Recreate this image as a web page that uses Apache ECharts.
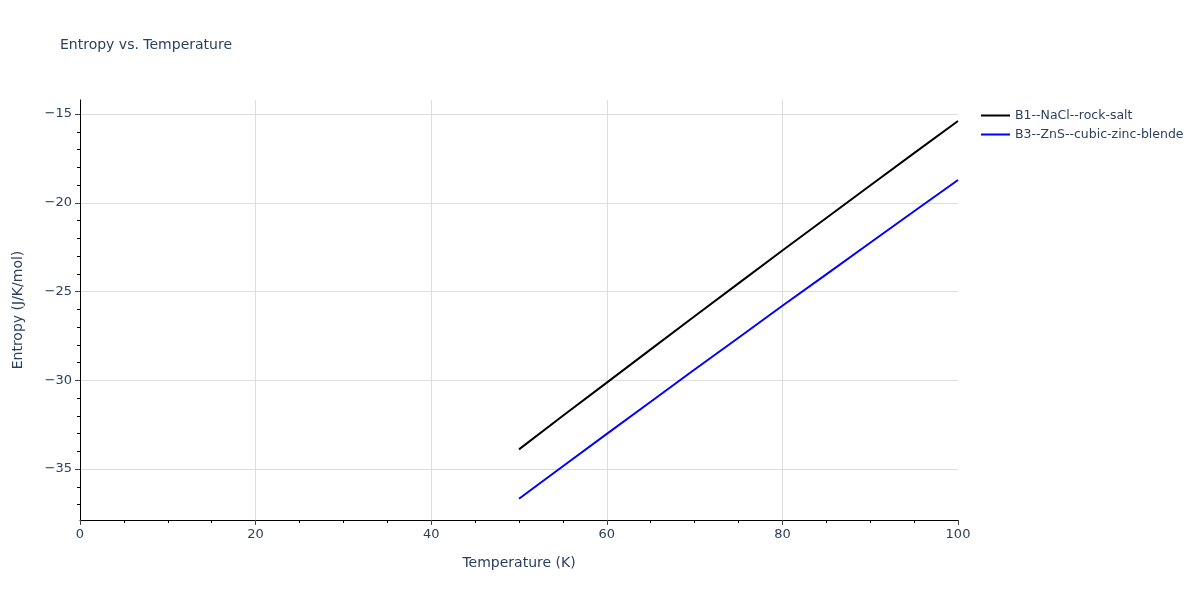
<!DOCTYPE html>
<html><head><meta charset="utf-8">
<script src="https://cdn.jsdelivr.net/npm/echarts@6/dist/echarts.min.js"></script>
<style>html,body{margin:0;padding:0;background:#fff}#c{width:1200px;height:600px}</style>
</head><body><div id="c"></div>
<script>
var temps = [50,55,60,65,70,75,80,85,90,95,100];
var seriesB1 = [-33.89,-32.00,-30.13,-28.26,-26.39,-24.54,-22.69,-20.86,-19.03,-17.20,-15.39];
var seriesB3 = [-36.67,-34.84,-33.02,-31.21,-29.39,-27.60,-25.80,-24.03,-22.25,-20.48,-18.72];
var yTicks = [-35,-30,-25,-20,-15];
var yMinor = [-37,-36,-34,-33,-32,-31,-29,-28,-27,-26,-24,-23,-22,-21,-19,-18,-17,-16];
var names = ['B1--NaCl--rock-salt','B3--ZnS--cubic-zinc-blende'];
var fontF = '"DejaVu Sans", Verdana, sans-serif';
var txt = '#2a3f5f';
function pair(xs, ys){return xs.map(function(x,i){return [x,ys[i]];});}
function fmt(v){return String(v).replace('-', '\u2212');}
var chart = echarts.init(document.getElementById('c'));
chart.setOption({
  animation:false,
  title:{text:'Entropy vs. Temperature',left:55,top:33,textStyle:{fontFamily:fontF,fontSize:14,fontWeight:'normal',color:txt}},
  legend:{orient:'vertical',left:976,top:104,itemGap:6,itemWidth:29,itemHeight:2,icon:'rect',
    textStyle:{fontFamily:fontF,fontSize:12.5,color:txt},data:names},
  grid:{left:80,right:242,top:100,bottom:80,containLabel:false},
  xAxis:{type:'value',min:0,max:100,interval:20,
    name:'Temperature (K)',nameLocation:'middle',nameGap:36,
    nameTextStyle:{fontFamily:fontF,fontSize:14,color:txt},
    axisLine:{show:true,lineStyle:{color:'#000',width:1}},
    axisTick:{show:true,length:5,lineStyle:{color:'#444'}},
    minorTick:{show:true,splitNumber:4,length:3,lineStyle:{color:'#000'}},
    axisLabel:{fontFamily:fontF,fontSize:13,color:txt,margin:8,formatter:fmt},
    splitLine:{show:true,showMinLine:false,showMaxLine:false,lineStyle:{color:'#dddddd'}}},
  yAxis:[{type:'value',min:-37.87,max:-14.21,
    name:'Entropy (J/K/mol)',nameLocation:'middle',nameGap:55,
    nameTextStyle:{fontFamily:fontF,fontSize:14,color:txt},
    axisLine:{show:true,lineStyle:{color:'#000',width:1}},
    axisTick:{show:true,length:5,customValues:yTicks,lineStyle:{color:'#444'}},
    axisLabel:{fontFamily:fontF,fontSize:13,color:txt,margin:8,customValues:yTicks,formatter:fmt},
    splitLine:{show:true,lineStyle:{color:'#dddddd'}}},
   {type:'value',min:-37.87,max:-14.21,position:'left',
    axisLine:{show:false},
    axisTick:{show:true,length:3,customValues:yMinor,lineStyle:{color:'#000'}},
    axisLabel:{show:false,customValues:yMinor},
    splitLine:{show:false}}],
  series:[
    {name:names[0],type:'line',data:pair(temps,seriesB1),symbol:'none',lineStyle:{color:'#000',width:2},itemStyle:{color:'#000'}},
    {name:names[1],type:'line',data:pair(temps,seriesB3),symbol:'none',lineStyle:{color:'#0000ff',width:2},itemStyle:{color:'#0000ff'}}
  ]
});
</script></body></html>
